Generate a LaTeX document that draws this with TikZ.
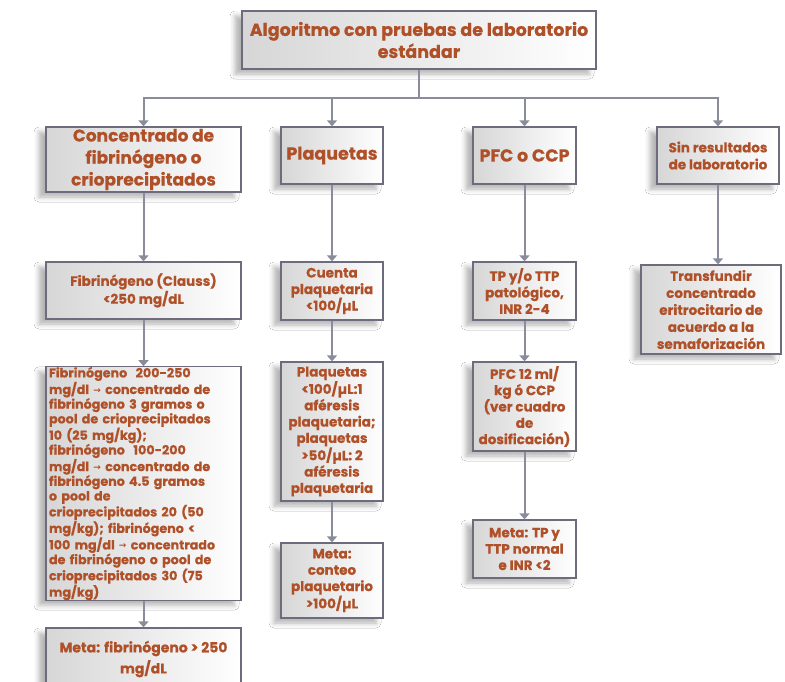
\documentclass[tikz,border=0pt]{standalone}
\usepackage{fontspec}
\setmainfont{Poppins}[BoldFeatures={FakeBold=0.5}]
\newfontfamily\symf{DejaVu Sans}
\usetikzlibrary{arrows.meta,shadows.blur}
\definecolor{txt}{RGB}{176,80,40}
\definecolor{edge}{RGB}{108,108,124}
\definecolor{conn}{RGB}{138,140,156}
\newcommand{\flecha}{\raisebox{0.5pt}{\symf\fontsize{9}{9}\selectfont →}}
\tikzset{
  box/.style={draw=edge, line width=1.3pt, left color=black!16, right color=white,
    text=txt, align=center, inner sep=0pt,
    blur shadow={shadow xshift=-7pt, shadow yshift=-5pt, shadow opacity=30, shadow blur radius=5pt}},
  big/.style={font=\bfseries\fontsize{17.5}{22}\selectfont},
  mid/.style={font=\bfseries\fontsize{13.5}{17}\selectfont},
  small/.style={font=\bfseries\fontsize{12.7}{14.7}\selectfont},
  arr/.style={draw=conn, line width=2pt, -{Triangle[width=10pt,length=6pt]}},
  ln/.style={draw=conn, line width=2pt}
}
\begin{document}
\begin{tikzpicture}[x=1pt,y=1pt]
\useasboundingbox (0,0) rectangle (785,-681);
\clip (0,0) rectangle (785,-681);
\fill[white] (0,0) rectangle (785,-681);
% top
\node[box, big, minimum width=354pt, minimum height=58pt] (top) at (419,-40) {Algoritmo con pruebas de laboratorio\\estándar};
% row 1
\node[box, font=\bfseries\fontsize{17}{22}\selectfont, minimum width=195pt, minimum height=65pt] (c1) at (143.5,-159.5) {Concentrado de\\fibrinógeno o\\crioprecipitados};
\node[box, big, minimum width=102pt, minimum height=57pt] (c2) at (332,-155.5) {Plaquetas};
\node[box, big, minimum width=103pt, minimum height=57pt] (c3) at (524.5,-155.5) {PFC o CCP};
\node[box, mid, minimum width=122pt, minimum height=57pt] (c4) at (718,-155.5) {Sin resultados\\de laboratorio};
% row 2
\node[box, font=\bfseries\fontsize{13.5}{18}\selectfont, minimum width=195pt, minimum height=57pt] (r2a) at (143.5,-290.5) {Fibrinógeno (Clauss)\\<250 mg/dL};
\node[box, font=\bfseries\fontsize{13.5}{16.5}\selectfont, minimum width=102pt, minimum height=58pt] (r2b) at (332,-291) {Cuenta\\plaquetaria\\<100/µL};
\node[box, font=\bfseries\fontsize{13.5}{16.5}\selectfont, minimum width=103pt, minimum height=58pt] (r2c) at (524.5,-291) {TP y/o TTP\\patológico,\\INR 2-4};
\node[box, font=\bfseries\fontsize{13.5}{17}\selectfont, minimum width=140pt, minimum height=89pt] (r2d) at (711,-309.5) {Transfundir\\concentrado\\eritrocitario de\\acuerdo a la\\semaforización};
% row 3
\node[box, small, align=left, text width=189pt, minimum width=195pt, minimum height=227pt] (r3a) at (143.5,-483.5) {Fibrinógeno\ \ 200-250\\mg/dl \flecha{} concentrado de\\fibrinógeno 3 gramos o\\pool de crioprecipitados\\10 (25 mg/kg);\\fibrinógeno\ \ 100-200\\mg/dl \flecha{} concentrado de\\fibrinógeno 4.5 gramos\\o pool de\\crioprecipitados 20 (50\\mg/kg); fibrinógeno <\\100 mg/dl \flecha{} concentrado\\de fibrinógeno o pool de\\crioprecipitados 30 (75\\mg/kg)};
\node[box, font=\bfseries\fontsize{13.5}{16.3}\selectfont, minimum width=102pt, minimum height=139pt] (r3b) at (332,-431.5) {Plaquetas\\<100/µL:1\\aféresis\\plaquetaria;\\plaquetas\\>50/µL: 2\\aféresis\\plaquetaria};
\node[box, font=\bfseries\fontsize{13.5}{16.3}\selectfont, minimum width=103pt, minimum height=89pt] (r3c) at (524.5,-406.5) {PFC 12 ml/\\kg ó CCP\\(ver cuadro\\de\\dosificación)};
% row 4
\node[box, font=\bfseries\fontsize{14}{21}\selectfont, minimum width=195pt, minimum height=62pt] (r4a) at (143.5,-659) {Meta: fibrinógeno > 250\\mg/dL};
\node[box, font=\bfseries\fontsize{13.5}{16.3}\selectfont, minimum width=102pt, minimum height=75pt] (r4b) at (332,-580.5) {Meta:\\conteo\\plaquetario\\>100/µL};
\node[box, font=\bfseries\fontsize{13.5}{16.3}\selectfont, minimum width=103pt, minimum height=58pt] (r4c) at (524.5,-549) {Meta: TP y\\TTP normal\\e INR <2};
% connectors
\coordinate (hub) at (419,-98);
\draw[ln] (top.south) -- (hub);
\draw[arr] (hub) -| (c1.north);
\draw[arr] (hub) -| (c2.north);
\draw[arr] (hub) -| (c3.north);
\draw[arr] (hub) -| (c4.north);
\draw[arr] (c1.south) -- (r2a.north);
\draw[arr] (c2.south) -- (r2b.north);
\draw[arr] (c3.south) -- (r2c.north);
\draw[arr] (c4.south) -- (c4.south |- r2d.north);
\draw[arr] (r2a.south) -- (r3a.north);
\draw[arr] (r2b.south) -- (r3b.north);
\draw[arr] (r2c.south) -- (r3c.north);
\draw[arr] (r3a.south) -- (r4a.north);
\draw[arr] (r3b.south) -- (r4b.north);
\draw[arr] (r3c.south) -- (r4c.north);
\end{tikzpicture}
\end{document}
